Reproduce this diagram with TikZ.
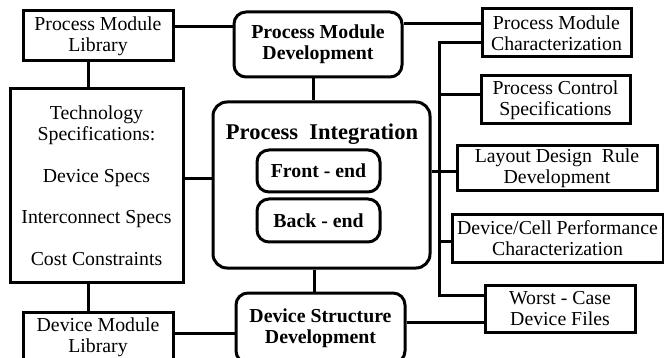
\documentclass[tikz,border=0pt]{standalone}
\usepackage{fontspec}
\setmainfont{Liberation Serif}
\begin{document}
\begin{tikzpicture}[x=1pt,y=-1pt,line width=3pt,
  box/.style={draw,line width=3pt,align=center,inner sep=0pt,
    font=\fontsize{19.8}{21}\selectfont},
  rbox/.style={box,rounded corners=12pt,
    font=\fontsize{19.8}{21}\bfseries\selectfont}]
\useasboundingbox (0,0) rectangle (664,358);

% boxes
\node[box,minimum width=150pt,minimum height=50pt] (pml) at (98,36) {Process Module\\Library};
\node[rbox,minimum width=168pt,minimum height=65pt] (pmd) at (318,44.5) {Process Module\\Development};
\node[box,minimum width=149pt,minimum height=48pt] (pmc) at (556.5,33) {Process Module\\Characterization};
\node[box,minimum width=149pt,minimum height=48pt] (pcs) at (555.5,100) {Process Control\\Specifications};
\node[box,minimum width=173pt,minimum height=193pt] (tech) at (96.5,185.5)
  {Technology\\Specifications:\\[21pt]Device Specs\\[20pt]Interconnect Specs\\[21pt]Cost Constraints};
\node[rbox,rounded corners=14pt,minimum width=217pt,minimum height=166pt] (pi) at (321.5,185) {};
\node[anchor=base,inner sep=0pt,font=\fontsize{22.5}{24}\bfseries\selectfont] (pit) at (322,140) {Process\ \ Integration};
\node[rbox,minimum width=123pt,minimum height=42pt] (fe) at (318.5,171) {Front - end};
\node[rbox,minimum width=123pt,minimum height=43pt] (be) at (318.5,220.5) {Back - end};
\node[box,minimum width=200pt,minimum height=45pt] (ldr) at (557,168.5) {Layout Design\ \ Rule\\Development};
\node[box,minimum width=211pt,minimum height=47pt] (dcp) at (557.5,238.5) {Device/Cell Performance\\Characterization};
\node[box,minimum width=150pt,minimum height=47pt] (wc) at (560,308.5) {Worst - Case\\Device Files};
\node[rbox,minimum width=169pt,minimum height=70pt] (dsd) at (320.5,328) {Device Structure\\Development};
\node[box,minimum width=150pt,minimum height=50pt] (dml) at (98,337) {Device Module\\Library};

% connectors
\draw (pml.east |- 0,27) -- (pmd.west |- 0,27);
\draw (pml.south -| 88,0) -- (tech.north -| 88,0);
\draw (tech.south -| 88,0) -- (dml.north -| 88,0);
\draw (tech.east |- 0,179) -- (pi.west |- 0,179);
\draw (pmd.south -| 313,0) -- (pi.north -| 313,0);
\draw (pi.south -| 314,0) -- (dsd.north -| 314,0);
\draw (pmd.east |- 0,24) -- (pmc.west |- 0,24);
\coordinate (bt) at (439,43);
\coordinate (bb) at (439,295);
\draw (pmc.west |- bt) -- (bt) -- (bb) -- (wc.west |- bb);
\draw (pcs.west |- 0,95) -- (bt |- 0,95);
\draw (pi.east |- 0,172) -- (ldr.west |- 0,172);
\draw (dcp.west |- 0,242) -- (bt |- 0,242);
\draw (dml.east |- 0,333) -- (dsd.west |- 0,333);
\draw (dsd.east |- 0,322) -- (wc.west |- 0,322);
\end{tikzpicture}
\end{document}
